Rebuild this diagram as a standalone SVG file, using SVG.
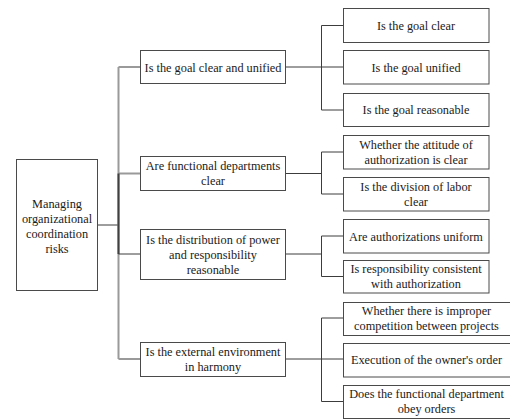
<svg xmlns="http://www.w3.org/2000/svg" width="510" height="419" viewBox="0 0 510 419">
<style>
.box{fill:#fff;stroke:#4a4a4a;stroke-width:1}
.t{font-family:"Liberation Serif","Times New Roman",serif;font-size:12.3px;fill:#1a1a1a;text-anchor:middle}
.ln{fill:none;stroke:#3c3c3c;stroke-width:1}
.lt{fill:none;stroke:#9a9a9a;stroke-width:2}
.dk{fill:none;stroke:#404040;stroke-width:2}
</style>
<rect width="510" height="419" fill="#fff"/>
<g id="connectors">
<path class="ln" d="M97 225H118.5"/>
<path class="lt" d="M118.5 67V359M118.5 67H140.5M118.5 173.5H140.5M118.5 359H140.5"/>
<path class="dk" d="M118.5 173.5V254"/>
<path class="ln" d="M118.5 254H140.5"/>
<path class="ln" d="M285.5 67H343.5M321.5 25.5V110M321.5 25.5H343.5M321.5 110H343.5"/>
<path class="ln" d="M285.5 173.5H321.5M321.5 152V194M321.5 152H343.5M321.5 194H343.5"/>
<path class="ln" d="M285.5 254H321.5M321.5 236V276.5M321.5 236H343.5M321.5 276.5H343.5"/>
<path class="ln" d="M285.5 359H343.5M321.5 318V401.5M321.5 318H343.5M321.5 401.5H343.5"/>
</g>
<g id="root">
<rect class="box" x="16.5" y="159.5" width="81" height="131"/>
<text class="t" x="57" y="207.5">Managing</text>
<text class="t" x="57" y="222.5">organizational</text>
<text class="t" x="57" y="237.5">coordination</text>
<text class="t" x="57" y="252.5">risks</text>
</g>
<g id="n1">
<rect class="box" x="140.5" y="50.5" width="145" height="33"/>
<text class="t" x="213" y="71.5">Is the goal clear and unified</text>
</g>
<g id="n2">
<rect class="box" x="140.5" y="156.5" width="145" height="34"/>
<text class="t" x="213" y="170">Are functional departments</text>
<text class="t" x="213" y="185">clear</text>
</g>
<g id="n3">
<rect class="box" x="140.5" y="229.5" width="145" height="50"/>
<text class="t" x="213" y="243.5">Is the distribution of power</text>
<text class="t" x="213" y="258.5">and responsibility</text>
<text class="t" x="213" y="273.5">reasonable</text>
</g>
<g id="n4">
<rect class="box" x="140.5" y="342.5" width="145" height="34"/>
<text class="t" x="213" y="355.5">Is the external environment</text>
<text class="t" x="213" y="370.5">in harmony</text>
</g>
<g id="n1a">
<rect class="box" x="343.5" y="8.5" width="145.5" height="34"/>
<text class="t" x="416" y="29.5">Is the goal clear</text>
</g>
<g id="n1b">
<rect class="box" x="343.5" y="50.5" width="145.5" height="33.5"/>
<text class="t" x="416" y="71.5">Is the goal unified</text>
</g>
<g id="n1c">
<rect class="box" x="343.5" y="93.5" width="145.5" height="33"/>
<text class="t" x="416" y="114">Is the goal reasonable</text>
</g>
<g id="n2a">
<rect class="box" x="343.5" y="135.5" width="145.5" height="33.5"/>
<text class="t" x="416" y="148.5">Whether the attitude of</text>
<text class="t" x="416" y="163.5">authorization is clear</text>
</g>
<g id="n2b">
<rect class="box" x="343.5" y="177.5" width="145.5" height="33.5"/>
<text class="t" x="416" y="190.5">Is the division of labor</text>
<text class="t" x="416" y="205.5">clear</text>
</g>
<g id="n3a">
<rect class="box" x="343.5" y="219.5" width="145.5" height="33.5"/>
<text class="t" x="416" y="240.5">Are authorizations uniform</text>
</g>
<g id="n3b">
<rect class="box" x="343.5" y="260.5" width="145.5" height="32.5"/>
<text class="t" x="416" y="273">Is responsibility consistent</text>
<text class="t" x="416" y="288">with authorization</text>
</g>
<g id="n4a">
<rect class="box" x="343.5" y="302.5" width="168" height="33"/>
<text class="t" x="426.5" y="315">Whether there is improper</text>
<text class="t" x="426.5" y="330">competition between projects</text>
</g>
<g id="n4b">
<rect class="box" x="343.5" y="343.5" width="168" height="33.5"/>
<text class="t" x="426.5" y="364">Execution of the owner's order</text>
</g>
<g id="n4c">
<rect class="box" x="343.5" y="385.5" width="168" height="33"/>
<text class="t" x="426.5" y="398">Does the functional department</text>
<text class="t" x="426.5" y="413">obey orders</text>
</g>
</svg>
